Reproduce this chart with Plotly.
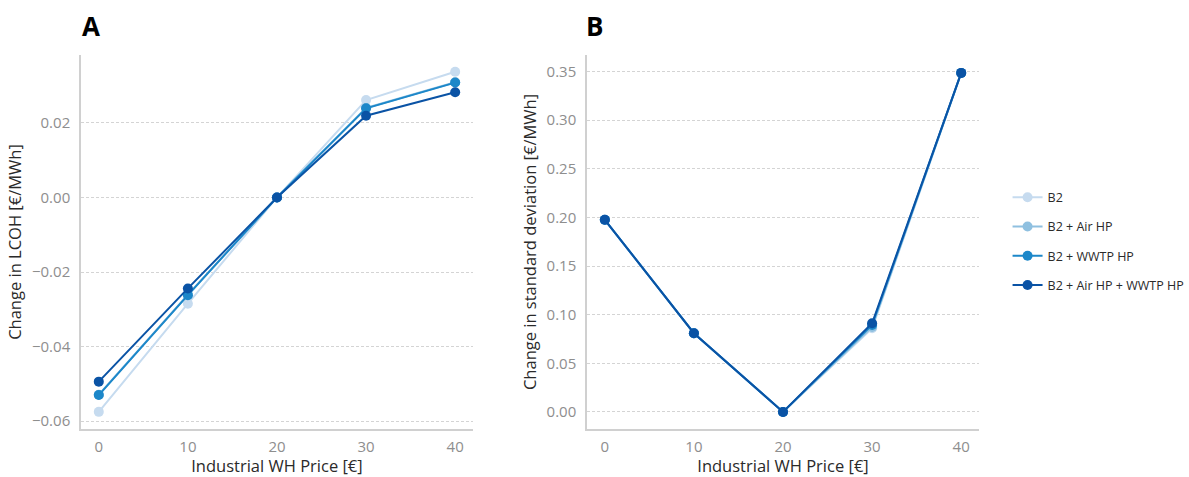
import plotly.graph_objects as go

prices = [0, 10, 20, 30, 40]
series_names = ["B2", "B2 + Air HP", "B2 + WWTP HP", "B2 + Air HP + WWTP HP"]
colors = ["#c6dbef", "#8fc0e0", "#1c87c9", "#0a53a5"]

# Panel A: change in LCOH [€/MWh]
lcoh_b2 = [-0.0575, -0.0285, 0.0, 0.0261, 0.0337]
lcoh_air = [-0.0529, -0.0261, 0.0, 0.0240, 0.0309]
lcoh_wwtp = [-0.0530, -0.0262, 0.0, 0.0239, 0.0308]
lcoh_all = [-0.0494, -0.0244, 0.0, 0.0219, 0.0282]

# Panel B: change in standard deviation [€/MWh]
std_b2 = [0.1975, 0.0808, 0.0, 0.0860, 0.3484]
std_air = [0.1975, 0.0809, 0.0, 0.0875, 0.3485]
std_wwtp = [0.1976, 0.0810, 0.0, 0.0895, 0.3486]
std_all = [0.1976, 0.0810, 0.0, 0.0912, 0.3486]

lcoh_series = [lcoh_b2, lcoh_air, lcoh_wwtp, lcoh_all]
std_series = [std_b2, std_air, std_wwtp, std_all]

fig = go.Figure()
for i, (name, col) in enumerate(zip(series_names, colors)):
    fig.add_trace(go.Scatter(
        x=prices, y=lcoh_series[i], mode="lines+markers", name=name,
        line=dict(color=col, width=2), marker=dict(color=col, size=10),
        legendgroup=name, showlegend=True, xaxis="x", yaxis="y"))
for i, (name, col) in enumerate(zip(series_names, colors)):
    fig.add_trace(go.Scatter(
        x=prices, y=std_series[i], mode="lines+markers", name=name,
        line=dict(color=col, width=2), marker=dict(color=col, size=10),
        legendgroup=name, showlegend=False, xaxis="x2", yaxis="y2"))

FONT = "Open Sans, Lato, sans-serif"
tickfont = dict(family=FONT, size=15, color="#8e8e8e")
titlefont = dict(family=FONT, size=16.5, color="#2a2a2a")

common_x = dict(range=[-2, 42], tickvals=prices, showgrid=False, zeroline=False,
                showline=True, linecolor="#d0d0d0", linewidth=1.5, ticks="",
                tickfont=tickfont, ticklabelstandoff=3, automargin=False)
common_y = dict(showgrid=True, gridcolor="#d4d4d4", griddash="3px,2px", gridwidth=1,
                zeroline=False, showline=True, linecolor="#d0d0d0", linewidth=1.5,
                ticks="", tickfont=tickfont, ticklabelstandoff=6, automargin=False)

fig.update_layout(
    width=1189, height=477,
    margin=dict(l=0, r=0, t=0, b=0, autoexpand=False),
    paper_bgcolor="white", plot_bgcolor="white",
    font=dict(family=FONT),
    xaxis=dict(domain=[0.0681, 0.3978], anchor="y",
               title=dict(text="Industrial WH Price [€]", font=titlefont, standoff=7),
               **common_x),
    yaxis=dict(domain=[0.1006, 0.8847], anchor="x", range=[-0.0621, 0.0382],
               tickvals=[-0.06, -0.04, -0.02, 0.0, 0.02],
               ticktext=["\u22120.06", "\u22120.04", "\u22120.02", "0.00", "0.02"],
               title=dict(text="Change in LCOH [€/MWh]", font=titlefont, standoff=6),
               **common_y),
    xaxis2=dict(domain=[0.4937, 0.8234], anchor="y2",
                title=dict(text="Industrial WH Price [€]", font=titlefont, standoff=7),
                **common_x),
    yaxis2=dict(domain=[0.1006, 0.8847], anchor="x2", range=[-0.0175, 0.367],
                tickvals=[0, 0.05, 0.1, 0.15, 0.2, 0.25, 0.3, 0.35],
                tickformat=".2f",
                title=dict(text="Change in standard deviation [€/MWh]", font=titlefont, standoff=6),
                **common_y),
    legend=dict(x=0.8474, y=0.617, xanchor="left", yanchor="top",
                font=dict(family=FONT, size=12.5, color="#2a2a2a"),
                tracegroupgap=10, bgcolor="rgba(0,0,0,0)"),
    annotations=[
        dict(text="<b>A</b>", x=0.067, y=0.945, xref="paper", yref="paper",
             xanchor="left", yanchor="middle", showarrow=False,
             font=dict(family=FONT, size=26, color="#000")),
        dict(text="<b>B</b>", x=0.4915, y=0.945, xref="paper", yref="paper",
             xanchor="left", yanchor="middle", showarrow=False,
             font=dict(family=FONT, size=26, color="#000")),
    ],
)

fig.write_html("out.html")
